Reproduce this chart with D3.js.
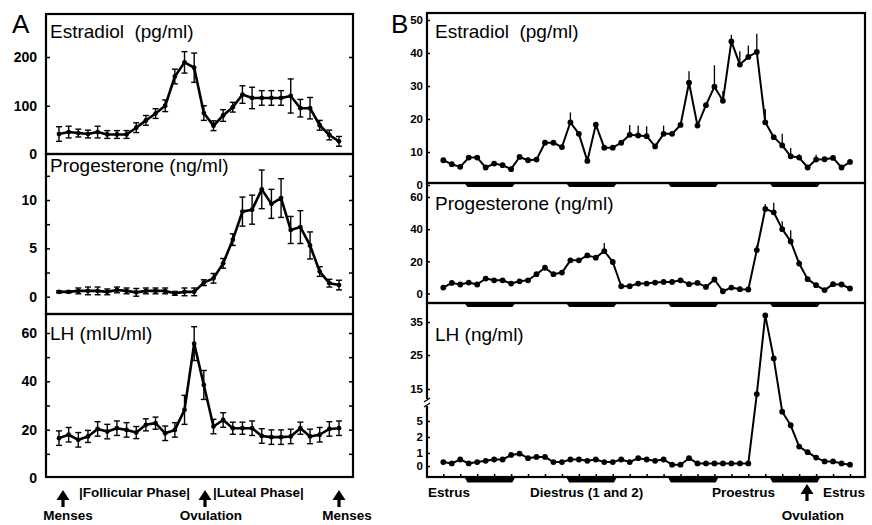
<!DOCTYPE html>
<html>
<head>
<meta charset="utf-8">
<script src="https://cdn.jsdelivr.net/npm/d3@7"></script>
<style>
  body { margin: 0; background: #fff; }
  svg { display: block; }
  text { font-family: 'Liberation Sans', Arial, sans-serif; fill: #000; }
</style>
</head>
<body>
<div id="chart"></div>
<script>
// ---- panel A: human menstrual cycle, 30 days ----
var aEstradiol = [42,46,44,42,46,41,41,41,55,70,84,100,160,189,178,85,59,80,97,123,116,116,116,116,120,95,95,60,40,27];
var aEstradiolErr = [15,12,8,8,12,8,8,8,10,10,10,12,15,22,30,15,10,12,10,18,22,15,15,15,35,18,22,10,10,10];
var aProgesterone = [0.5,0.5,0.6,0.6,0.6,0.5,0.7,0.6,0.45,0.6,0.6,0.6,0.35,0.5,0.5,1.45,1.9,3.45,5.9,8.8,9.0,11.1,9.6,10.2,6.9,7.2,5.3,2.6,1.4,1.2];
var aProgesteroneErr = [0.1,0.1,0.3,0.4,0.4,0.3,0.3,0.3,0.4,0.3,0.3,0.3,0.2,0.4,0.4,0.3,0.5,0.5,0.6,1.5,1.5,2,1.5,2,1.4,1.7,1.4,0.5,0.4,0.5];
var aLH = [16.5,17.9,15.8,17.2,20.3,19.2,20.6,19.9,18.8,22,22.7,18.5,19.9,28.2,55.6,38.5,21.3,24,20.6,20.6,20.6,17.4,16.9,16.9,17.2,20.6,17.2,17.9,20.3,20.6];
var aLHErr = [3,3,3,2.5,3,3,3,3,2.5,2.5,2.5,3,3,6,7,6,3,3,2.5,2.5,3,3,3,3,3,2.5,3,3,3,3];

// ---- panel B: rat estrous cycle, 49 samples every 2 h ----
var bEstradiol = [7.5,6.3,5.5,8.3,8.3,5.3,6.5,6,4.8,8.5,7.5,7.7,12.8,12.8,11.5,19,15.5,7.3,18.3,11.3,11.3,12.8,15.2,15,14.8,11.7,15.5,15.5,18.2,31,18,24.2,29.8,25.5,43.5,36.5,38.8,40.3,19,14.5,12,8.7,8.3,5.3,7.7,7.8,8.2,5.3,7];
var bEstradiolErr = [0.5,0.5,0.5,0.5,0.5,0.5,0.5,0.5,0.5,0.5,0.5,0.5,0.5,0.5,0.5,3,0.5,0.5,0.5,0.5,0.5,0.5,3,3,3,0.5,2.5,0.5,0.5,3.5,0.5,0.5,6.5,3,2,4,3.5,5.5,4,0.5,3.5,2.5,1,0.5,1.5,0.5,0.5,0.5,0.5];
var bProgesterone = [3.7,6.6,5.6,6.8,5.6,9.3,8.2,8.2,6.2,7.6,8.2,12,16,12,13,20.6,20.6,23.7,22.3,26.4,19.6,4.5,4.5,6.2,6.2,6.8,7.2,7.2,8.2,5.8,6.6,4.1,8.7,1.4,3.7,2.7,2.5,27,52.6,50.5,40,32.4,18.6,8.9,5.2,2.1,5.8,5.6,3.1];
var bProgesteroneErr = [1,1,1,1,1,1,1,1,1,1,1,1,1,1,1,1,1,1,1,5,1,1,1,1,1,1,1,1,1,1,1,1,1,1,1,1,1,3,3,6,5,7,2,1,1,1,1,1,1];
var bLH = [0.3,0.2,0.5,0.2,0.3,0.4,0.5,0.5,0.85,0.95,0.6,0.7,0.7,0.3,0.3,0.5,0.5,0.4,0.5,0.3,0.3,0.5,0.3,0.6,0.5,0.4,0.5,0.1,0.1,0.6,0.2,0.2,0.2,0.2,0.2,0.2,0.2,13.4,37,24,7.9,4.2,1.4,1.05,0.65,0.35,0.35,0.2,0.1];
var darkPeriods = [[2.5,8.5],[14.5,20.5],[26.5,32.5],[38.5,44.5]];

var svg = d3.select("#chart").append("svg")
  .attr("width", 872)
  .attr("height", 525);

var xA = d3.scaleLinear().domain([0, aLH.length - 1]).range([59, 339]);
var xB = d3.scaleLinear().domain([0, bLH.length - 1]).range([443.3, 850]);

var frameA = {left: 46, right: 353};
var frameB = {left: 427, right: 865};

var panelsA = [
  {top: 14, bottom: 154, title: "Estradiol\u00a0\u00a0(pg/ml)", titleY: 38,
   y: d3.scaleLinear().domain([0, 200]).range([154.5, 57]),
   vals: aEstradiol, err: aEstradiolErr, ticks: [100, 200], labels: [0, 100, 200]},
  {top: 154, bottom: 314, title: "Progesterone (ng/ml)", titleY: 172,
   y: d3.scaleLinear().domain([0, 10]).range([296.7, 200]),
   vals: aProgesterone, err: aProgesteroneErr, ticks: [0, 2.5, 5, 7.5, 10, 12.5], labels: [0, 5, 10]},
  {top: 314, bottom: 477, title: "LH (mIU/ml)", titleY: 340,
   y: d3.scaleLinear().domain([0, 60]).range([478, 333]),
   vals: aLH, err: aLHErr, ticks: [10, 20, 30, 40, 50, 60], labels: [0, 20, 40, 60]}
];

var panelsB = [
  {top: 13, bottom: 183, title: "Estradiol\u00a0\u00a0(pg/ml)", titleY: 38,
   y: d3.scaleLinear().domain([0, 50]).range([185, 20]),
   vals: bEstradiol, err: bEstradiolErr, labels: [0, 10, 20, 30, 40, 50]},
  {top: 183, bottom: 303, title: "Progesterone (ng/ml)", titleY: 210,
   y: d3.scaleLinear().domain([0, 60]).range([293.5, 197]),
   vals: bProgesterone, err: bProgesteroneErr, labels: [0, 20, 40, 60]},
  {top: 303, bottom: 477, title: "LH (ng/ml)", titleY: 341,
   y: d3.scaleLinear().domain([0, 1, 2, 5, 15, 25, 35]).range([466, 453, 437, 421, 389, 355, 322]),
   vals: bLH, err: null, labels: [0, 1, 2, 5, 15, 25, 35]}
];

function cleanAxis(g) {
  g.select(".domain").remove();
  g.selectAll(".tick line").attr("stroke", "#000").attr("stroke-width", 1.5);
  g.selectAll("text").attr("font-family", null);
}

// ---------- Panel A ----------
panelsA.forEach(function(p) {
  var g = svg.append("g");
  var line = d3.line().x(function(d, i) { return xA(i); }).y(function(d) { return p.y(d); });

  g.append("g")
    .attr("transform", "translate(" + frameA.left + ",0)")
    .call(d3.axisLeft(p.y).tickValues(p.labels).tickSize(0).tickPadding(9))
    .call(cleanAxis)
    .selectAll("text").style("font-size", "14px").style("font-weight", "bold");

  g.append("g")
    .attr("transform", "translate(" + frameA.left + ",0)")
    .call(d3.axisLeft(p.y).tickValues(p.ticks).tickSize(-4).tickFormat(""))
    .call(cleanAxis);

  g.append("g")
    .attr("transform", "translate(" + frameA.right + ",0)")
    .call(d3.axisRight(p.y).tickValues(p.ticks).tickSize(-4).tickFormat(""))
    .call(cleanAxis);

  // error bars
  var eb = g.selectAll(".eb").data(p.vals).enter().append("g");
  eb.append("line")
    .attr("x1", function(d, i) { return xA(i); })
    .attr("x2", function(d, i) { return xA(i); })
    .attr("y1", function(d, i) { return p.y(d - p.err[i]); })
    .attr("y2", function(d, i) { return p.y(d + p.err[i]); })
    .attr("stroke", "#000").attr("stroke-width", 1.4);
  [-1, 1].forEach(function(s) {
    eb.append("line")
      .attr("x1", function(d, i) { return xA(i) - 3; })
      .attr("x2", function(d, i) { return xA(i) + 3; })
      .attr("y1", function(d, i) { return p.y(d + s * p.err[i]); })
      .attr("y2", function(d, i) { return p.y(d + s * p.err[i]); })
      .attr("stroke", "#000").attr("stroke-width", 1.4);
  });

  g.append("path")
    .datum(p.vals)
    .attr("d", line)
    .attr("fill", "none")
    .attr("stroke", "#000")
    .attr("stroke-width", 2.6)
    .attr("stroke-linejoin", "round");

  g.selectAll(".dot").data(p.vals).enter().append("circle")
    .attr("cx", function(d, i) { return xA(i); })
    .attr("cy", function(d) { return p.y(d); })
    .attr("r", 2.4)
    .attr("fill", "#000");

  g.append("text")
    .attr("x", 50).attr("y", p.titleY)
    .style("font-size", "19px")
    .text(p.title);

  g.append("rect")
    .attr("x", frameA.left).attr("y", p.top)
    .attr("width", frameA.right - frameA.left).attr("height", p.bottom - p.top)
    .attr("fill", "none").attr("stroke", "#000").attr("stroke-width", 2.2);
});

// ---------- Panel B ----------
panelsB.forEach(function(p, k) {
  var g = svg.append("g");
  var line = d3.line().x(function(d, i) { return xB(i); }).y(function(d) { return p.y(d); });

  g.append("g")
    .attr("transform", "translate(" + frameB.left + ",0)")
    .call(d3.axisLeft(p.y).tickValues(p.labels).tickSize(-3).tickPadding(4))
    .call(cleanAxis)
    .selectAll("text").style("font-size", "11.5px").style("font-weight", "bold");

  if (p.err) {
    g.selectAll(".eb").data(p.vals).enter().append("line")
      .attr("x1", function(d, i) { return xB(i); })
      .attr("x2", function(d, i) { return xB(i); })
      .attr("y1", function(d) { return p.y(d); })
      .attr("y2", function(d, i) { return p.y(d + p.err[i]); })
      .attr("stroke", "#000").attr("stroke-width", 1.3);
  }

  g.append("path")
    .datum(p.vals)
    .attr("d", line)
    .attr("fill", "none")
    .attr("stroke", "#000")
    .attr("stroke-width", 2)
    .attr("stroke-linejoin", "round");

  g.selectAll(".dot").data(p.vals).enter().append("circle")
    .attr("cx", function(d, i) { return xB(i); })
    .attr("cy", function(d) { return p.y(d); })
    .attr("r", 2.9)
    .attr("fill", "#000");

  g.append("text")
    .attr("x", 435).attr("y", p.titleY)
    .style("font-size", "19px")
    .text(p.title);

  g.append("rect")
    .attr("x", frameB.left).attr("y", p.top)
    .attr("width", frameB.right - frameB.left).attr("height", p.bottom - p.top)
    .attr("fill", "none").attr("stroke", "#000").attr("stroke-width", 2.2);

  // dark-phase bars under each frame line
  var barH = k === 2 ? 5.5 : 4;
  g.selectAll(".dark").data(darkPeriods).enter().append("path")
    .attr("d", function(d) {
      var x0 = xB(d[0]), x1 = xB(d[1]), y0 = p.bottom;
      return "M" + x0 + "," + y0 + "L" + x1 + "," + y0 + "L" + (x1 - 3) + "," + (y0 + barH) +
             "L" + (x0 + 3) + "," + (y0 + barH) + "Z";
    })
    .attr("fill", "#000");
});

// LH (B) bottom ticks and axis break
svg.append("g")
  .attr("transform", "translate(0,477)")
  .call(d3.axisBottom(xB).tickValues(d3.range(0, bLH.length, 2)).tickSize(-3).tickFormat(""))
  .call(cleanAxis);
svg.append("rect").attr("x", frameB.left - 3).attr("y", 399).attr("width", 6).attr("height", 7).attr("fill", "#fff");
svg.append("path")
  .attr("d", "M424,402 L430,398 M424,407 L430,403")
  .attr("stroke", "#000").attr("stroke-width", 1.3).attr("fill", "none");

// panel letters
svg.append("text").attr("x", 12).attr("y", 33).style("font-size", "26px").text("A");
svg.append("text").attr("x", 391).attr("y", 33).style("font-size", "26px").text("B");

// annotations under the panels
function arrow(x, tip) {
  svg.append("path")
    .attr("d", "M" + x + "," + tip + "L" + (x + 6.5) + "," + (tip + 10) + "L" + (x + 1.6) + "," + (tip + 10) +
               "L" + (x + 1.6) + "," + (tip + 17) + "L" + (x - 1.6) + "," + (tip + 17) + "L" + (x - 1.6) + "," + (tip + 10) +
               "L" + (x - 6.5) + "," + (tip + 10) + "Z")
    .attr("fill", "#000");
}
function label(x, y, txt, anchor) {
  svg.append("text")
    .attr("x", x).attr("y", y)
    .attr("text-anchor", anchor || "start")
    .style("font-size", "13.5px").style("font-weight", "bold")
    .text(txt);
}

label(79, 497, "|Follicular Phase|");
label(213, 497, "|Luteal Phase|");
arrow(63, 490); arrow(205, 490); arrow(339, 490);
label(68, 520, "Menses", "middle");
label(211, 520, "Ovulation", "middle");
label(347, 520, "Menses", "middle");

label(428, 497, "Estrus");
label(530, 497, "Diestrus (1 and 2)");
label(712, 497, "Proestrus");
label(823, 497, "Estrus");
arrow(807, 484);
label(813, 520, "Ovulation", "middle");
</script>
</body>
</html>
